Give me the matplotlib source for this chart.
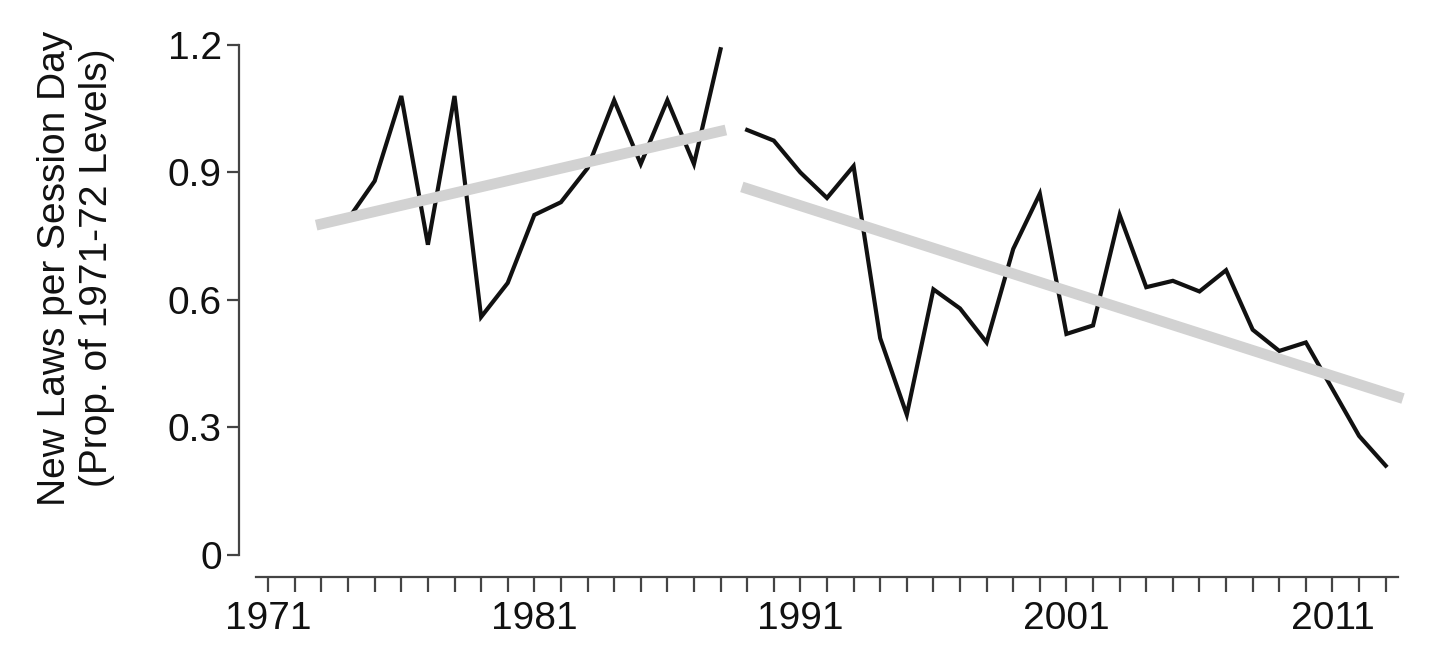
import numpy as np
import matplotlib.pyplot as plt

plt.rcParams["font.family"] = ["Liberation Sans", "DejaVu Sans"]

# ---- Data ----
years_early = [1973, 1974, 1975, 1976, 1977, 1978, 1979, 1980, 1981, 1982,
               1983, 1984, 1985, 1986, 1987, 1988]
laws_early = [0.78, 0.79, 0.88, 1.08, 0.73, 1.08, 0.56, 0.64, 0.80, 0.83,
              0.91, 1.07, 0.92, 1.07, 0.92, 1.19]

years_late = [1989, 1990, 1991, 1992, 1993, 1994, 1995, 1996, 1997, 1998,
              1999, 2000, 2001, 2002, 2003, 2004, 2005, 2006, 2007, 2008,
              2009, 2010, 2011, 2012, 2013]
laws_late = [1.00, 0.975, 0.90, 0.84, 0.915, 0.51, 0.33, 0.625, 0.58, 0.50,
             0.72, 0.85, 0.52, 0.54, 0.80, 0.63, 0.645, 0.62, 0.67, 0.53,
             0.48, 0.50, 0.39, 0.28, 0.21]

# trend line end points (year, value)
trend_early_x = [1972.8, 1988.2]
trend_early_y = [0.776, 1.000]
trend_late_x = [1988.8, 2013.65]
trend_late_y = [0.866, 0.368]

tick_years = list(range(1971, 2014))
label_years = [1971, 1981, 1991, 2001, 2011]
y_ticks = [0, 0.3, 0.6, 0.9, 1.2]
y_labels = ["0", "0.3", "0.6", "0.9", "1.2"]

# ---- Figure ----
W, H = 1434, 646
fig = plt.figure(figsize=(W / 100, H / 100), dpi=100)
ax = fig.add_axes([239 / W, (H - 577) / H, 1173.3 / W, (577 - 36.5) / H])

LINE_C = "#111111"
TREND_C = "#d2d2d2"
SPINE_C = "#444444"

ax.plot(years_early, laws_early, color=LINE_C, lw=3.0, zorder=2,
        solid_joinstyle="miter")
ax.plot(years_late, laws_late, color=LINE_C, lw=3.0, zorder=2,
        solid_joinstyle="miter")
ax.plot(trend_early_x, trend_early_y, color=TREND_C, lw=7.8,
        solid_capstyle="butt", zorder=3)
ax.plot(trend_late_x, trend_late_y, color=TREND_C, lw=7.8,
        solid_capstyle="butt", zorder=3)

ax.set_xlim(1969.9, 2014)
ax.set_ylim(-0.052, 1.22)

for s in ["top", "right"]:
    ax.spines[s].set_visible(False)
for s in ["left", "bottom"]:
    ax.spines[s].set_color(SPINE_C)
    ax.spines[s].set_linewidth(1.6)
ax.spines["left"].set_bounds(0, 1.2)
ax.spines["bottom"].set_bounds(1970.55, 2013.45)

ax.set_xticks(tick_years)
ax.set_xticklabels([str(y) if y in label_years else "" for y in tick_years])
ax.set_yticks(y_ticks)
ax.set_yticklabels(y_labels)

ax.tick_params(axis="x", length=11, width=1.6, color=SPINE_C, pad=6,
               labelsize=28, labelcolor="#111111")
ax.tick_params(axis="y", length=9, width=1.6, color=SPINE_C, pad=3.5,
               labelsize=28, labelcolor="#111111")

fig.text(76 / W, (H - 268) / H,
         "New Laws per Session Day\n(Prop. of 1971-72 Levels)",
         rotation=90, ha="center", va="center", multialignment="center",
         fontsize=28, color="#111111", linespacing=1.22)

fig.savefig("out.png", dpi=100)
